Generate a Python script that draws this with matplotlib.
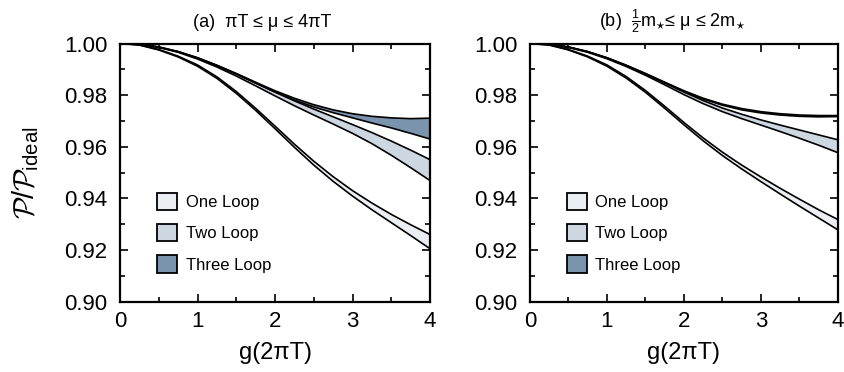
import numpy as np
import matplotlib
matplotlib.use('Agg')
import matplotlib.pyplot as plt
from matplotlib.patches import Patch
from matplotlib.ticker import MultipleLocator

plt.rcParams['font.family'] = ['Liberation Sans', 'DejaVu Sans']
plt.rcParams['mathtext.fontset'] = 'custom'
plt.rcParams['mathtext.rm'] = 'Liberation Sans'
plt.rcParams['mathtext.it'] = 'Liberation Sans'
plt.rcParams['mathtext.cal'] = 'cmsy10'

g = [0, 0.25, 0.5, 0.75, 1.0, 1.25, 1.5, 1.75, 2.0, 2.25, 2.5, 2.75, 3.0, 3.25, 3.5, 3.75, 4.0]

# panel (a): pi T <= mu <= 4 pi T
a_one_lo = [1.0, .9994, .9975, .9948, .9912, .9865, .9807, .9741, .9670, .9598, .9529, .9466, .9409, .9356, .9306, .9256, .9205]
a_one_hi = [1.0, .9995, .9977, .9951, .9917, .9871, .9814, .9749, .9680, .9610, .9544, .9484, .9430, .9382, .9338, .9298, .9260]
a_two_lo = [1.0, .9997, .9985, .9966, .9940, .9909, .9874, .9836, .9797, .9759, .9723, .9688, .9652, .9612, .9567, .9519, .9469]
a_two_hi = [1.0, .9997, .9986, .9968, .9944, .9915, .9882, .9847, .9812, .9778, .9746, .9716, .9686, .9655, .9622, .9587, .9550]
a_three_lo = [1.0, .9997, .9986, .9968, .9944, .9914, .9882, .9847, .9812, .9781, .9754, .9732, .9712, .9692, .9673, .9652, .9630]
a_three_hi = [1.0, .9997, .9987, .9969, .9945, .9916, .9884, .9850, .9817, .9788, .9763, .9743, .9728, .9718, .9712, .9709, .9711]

# panel (b): m*/2 <= mu <= 2 m*
b_one_lo = [1.0, .9994, .9975, .9948, .9912, .9866, .9811, .9749, .9685, .9623, .9566, .9514, .9465, .9417, .9370, .9324, .9278]
b_one_hi = [1.0, .9995, .9977, .9951, .9917, .9872, .9818, .9757, .9694, .9634, .9579, .9529, .9483, .9439, .9397, .9356, .9318]
b_two_lo = [1.0, .9997, .9985, .9966, .9941, .9911, .9877, .9840, .9802, .9767, .9736, .9709, .9684, .9659, .9633, .9606, .9577]
b_two_hi = [1.0, .9997, .9986, .9968, .9944, .9915, .9882, .9847, .9812, .9779, .9750, .9726, .9704, .9684, .9665, .9646, .9627]
b_three_lo = [1.0, .9997, .9986, .9968, .9944, .9915, .9883, .9849, .9815, .9785, .9761, .9743, .9731, .9723, .9718, .9716, .9717]
b_three_hi = [1.0, .9997, .9987, .9969, .9945, .9916, .9884, .9850, .9817, .9788, .9765, .9748, .9736, .9728, .9723, .9721, .9721]

labels = ['One Loop', 'Two Loop', 'Three Loop']
colors = ['#ebeef3', '#cdd7e1', '#7b94ae']
titles = [r'(a)  πT ≤ μ ≤ 4πT',
          r'(b)  $\frac{1}{2}$m$_{\star}$≤ μ ≤ 2m$_{\star}$']
title_x = [0.458, 0.463]

panels = [
    [(a_one_lo, a_one_hi), (a_two_lo, a_two_hi), (a_three_lo, a_three_hi)],
    [(b_one_lo, b_one_hi), (b_two_lo, b_two_hi), (b_three_lo, b_three_hi)],
]

fig = plt.figure(figsize=(8.45, 3.72), dpi=100)
ax_a = fig.add_axes([0.142, 0.189, 0.367, 0.694])
ax_b = fig.add_axes([0.6272, 0.189, 0.3645, 0.694])

for ax, bands, title, tx in zip([ax_a, ax_b], panels, titles, title_x):
    for (lo, hi), c in zip(bands, colors):
        ax.fill_between(g, lo, hi, facecolor=c, edgecolor='none', zorder=2)
        ax.plot(g, lo, color='black', lw=1.2, zorder=3, solid_joinstyle='round')
        ax.plot(g, hi, color='black', lw=1.2, zorder=3, solid_joinstyle='round')
    ax.set_xlim(0, 4)
    ax.set_ylim(0.90, 1.00)
    ax.set_xticks([0, 1, 2, 3, 4])
    ax.set_yticks([0.90, 0.92, 0.94, 0.96, 0.98, 1.00])
    ax.set_yticklabels(['0.90', '0.92', '0.94', '0.96', '0.98', '1.00'])
    ax.xaxis.set_minor_locator(MultipleLocator(0.5))
    ax.yaxis.set_minor_locator(MultipleLocator(0.01))
    ax.tick_params(which='both', direction='in', top=True, right=True, width=1.2)
    ax.tick_params(which='major', length=6, labelsize=16)
    ax.tick_params(which='minor', length=3.5)
    ax.tick_params(axis='y', which='major', pad=9)
    ax.tick_params(axis='x', which='major', pad=7)
    for s in ax.spines.values():
        s.set_linewidth(1.6)
    ax.set_xlabel('g(2πT)', fontsize=17, labelpad=7)
    ax.set_title(title, fontsize=13, pad=12, x=tx)
    handles = [Patch(facecolor=c, edgecolor='black', lw=1.3) for c in colors]
    ax.legend(handles, labels, loc='upper left', bbox_to_anchor=(0.072, 0.48),
              frameon=False, fontsize=12, handlelength=1.2, handleheight=1.2,
              labelspacing=0.85, handletextpad=0.5)

fig.text(0.03, 0.535, r'$\mathcal{P}/\mathcal{P}_{\rm ideal}$', rotation=90,
         ha='center', va='center', fontsize=21)

fig.savefig('out.png', dpi=100)
